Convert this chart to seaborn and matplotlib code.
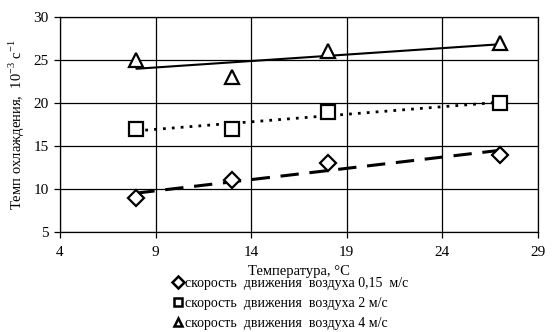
import numpy as np
import pandas as pd
import matplotlib
matplotlib.use("Agg")
import matplotlib.pyplot as plt
import seaborn as sns

temperature = [8, 13, 18, 27]
rate_015 = [9, 11, 13, 14]
rate_2 = [17, 17, 19, 20]
rate_4 = [25, 23, 26, 27]
labels = ["скорость  движения  воздуха 0,15  м/с",
          "скорость  движения  воздуха 2 м/с",
          "скорость  движения  воздуха 4 м/с"]
x_ticks = [4, 9, 14, 19, 24, 29]
y_ticks = [5, 10, 15, 20, 25, 30]

sns.set_theme(style="white")
plt.rcParams['font.family'] = ['Liberation Serif', 'DejaVu Serif']
plt.rcParams['mathtext.fontset'] = 'custom'
plt.rcParams['mathtext.rm'] = 'Liberation Serif'

fig = plt.figure(figsize=(5.55, 3.32), dpi=100)
ax = fig.add_axes([0.108, 0.301, 0.861, 0.648])

series = [
    (rate_015, "D", (0, (6, 3.5)), 2.2, 8),
    (rate_2, "s", (0, (1, 2.2)), 2.0, 9.5),
    (rate_4, "^", "-", 1.5, 10),
]
handles = []
for (vals, mk, ls, lw, ms), lab in zip(series, labels):
    df = pd.DataFrame({"t": temperature, "v": vals})
    sns.regplot(data=df, x="t", y="v", ax=ax, scatter=False, ci=None,
                truncate=True, color="black",
                line_kws=dict(linestyle=ls, linewidth=lw))
    ax.plot(df["t"], df["v"], linestyle="none", marker=mk, markersize=ms,
            markerfacecolor="white", markeredgecolor="black", markeredgewidth=1.6,
            zorder=5)
    h, = ax.plot([], [], linestyle="none", marker=mk, markersize=6,
                 markerfacecolor="white", markeredgecolor="black",
                 markeredgewidth=1.8, label=lab)
    handles.append(h)

ax.set_xlim(4, 29)
ax.set_ylim(5, 30)
ax.set_xticks(x_ticks)
ax.set_yticks(y_ticks)
ax.grid(True, color="black", linewidth=0.9)
for s in ax.spines.values():
    s.set_color("black")
    s.set_linewidth(0.9)
ax.tick_params(axis="both", direction="out", length=4, width=0.9, color="black",
               labelsize=11, labelcolor="black", bottom=True, left=True, pad=4)
ax.tick_params(axis="x", pad=6)
ax.set_xlabel("Температура, °C", fontsize=10.5, color="black", labelpad=4)
ax.set_ylabel("Темп охлаждения,  10$^{-3}$ с$^{-1}$", fontsize=10.5, color="black",
              labelpad=5)

fig.legend(handles=handles, loc="upper center", bbox_to_anchor=(0.525, 0.183),
           frameon=False, fontsize=10, handlelength=0.6, handletextpad=0.2,
           labelspacing=0.5, borderaxespad=0, markerfirst=True)
leg = fig.legends[0]
for t in leg.get_texts():
    t.set_color("black")

fig.savefig("out.png", dpi=100, facecolor="white")
